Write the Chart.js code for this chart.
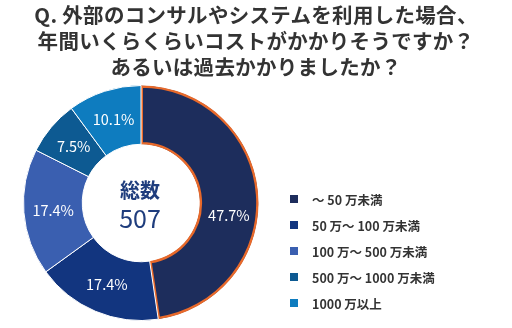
<!DOCTYPE html>
<html>
<head>
<meta charset="utf-8">
<script src="https://cdn.jsdelivr.net/npm/chart.js@4"></script>
<style>
  body { margin: 0; background: #fff; font-family: "Noto Sans CJK JP", sans-serif; }
  #wrap { position: relative; width: 512px; height: 328px; }
  #title { position: absolute; left: 0; top: 1px; width: 512px; text-align: center;
    font-size: 20.5px; font-weight: bold; line-height: 26px; color: #333; letter-spacing: 0.3px; }
  #legend { position: absolute; left: 290px; top: 186px; }
  .item { height: 26px; display: flex; align-items: center; font-size: 12.5px; font-weight: bold; color: #333; }
  .box { width: 8px; height: 8px; margin-right: 14px; }
</style>
</head>
<body>
<div id="wrap">
  <canvas id="pie" width="512" height="328"></canvas>
  <div id="title">Q. 外部のコンサルやシステムを利用した場合、<br>年間いくらくらいコストがかかりそうですか？<br>あるいは過去かかりましたか？</div>
  <div id="legend"></div>
</div>
<script>
const labels = ['～ 50 万未満', '50 万～ 100 万未満', '100 万～ 500 万未満', '500 万～ 1000 万未満', '1000 万以上'];
const shares = [47.7, 17.4, 17.4, 7.5, 10.1];
const colors = ['#1d2d5c', '#12357f', '#3a5fb0', '#0d5a92', '#0e7cbf'];
const total = 507;

// legend as html
const legend = document.getElementById('legend');
labels.forEach((l, i) => {
  const row = document.createElement('div');
  row.className = 'item';
  row.innerHTML = '<span class="box" style="background:' + colors[i] + '"></span>' + l;
  legend.appendChild(row);
});

const sliceLabels = {
  id: 'sliceLabels',
  afterDatasetsDraw(chart) {
    const ctx = chart.ctx;
    const meta = chart.getDatasetMeta(0);
    ctx.save();
    ctx.fillStyle = '#fff';
    ctx.font = '14.5px "Noto Sans CJK JP", sans-serif';
    ctx.textAlign = 'center';
    ctx.textBaseline = 'middle';
    meta.data.forEach((arc, i) => {
      const p = arc.tooltipPosition();
      const dy = i === 0 ? 19 : 0;
      ctx.fillText(shares[i].toFixed(1) + '%', p.x, p.y + dy);
    });
    // center text
    const a = meta.data[0];
    ctx.fillStyle = '#1f3d7d';
    ctx.font = 'bold 20px "Noto Sans CJK JP", sans-serif';
    ctx.fillText('総数', a.x - 1, a.y - 13);
    ctx.font = '25px "Noto Sans CJK JP", sans-serif';
    ctx.fillText(String(total), a.x - 1, a.y + 15);
    ctx.restore();
  }
};

new Chart(document.getElementById('pie').getContext('2d'), {
  type: 'doughnut',
  data: {
    labels: labels,
    datasets: [{
      data: shares,
      backgroundColor: colors,
      borderColor: ['#e8692a', '#fff', '#fff', '#fff', '#fff'],
      borderWidth: [2, 1, 1, 1, 1],
      borderAlign: ['inner', 'center', 'center', 'center', 'center'],
      hoverOffset: 0
    }]
  },
  options: {
    responsive: false,
    animation: false,
    cutout: '50%',
    layout: { padding: { left: 23, right: 253, top: 85, bottom: 7 } },
    plugins: {
      legend: { display: false },
      tooltip: { enabled: false }
    }
  },
  plugins: [sliceLabels]
});
</script>
</body>
</html>
